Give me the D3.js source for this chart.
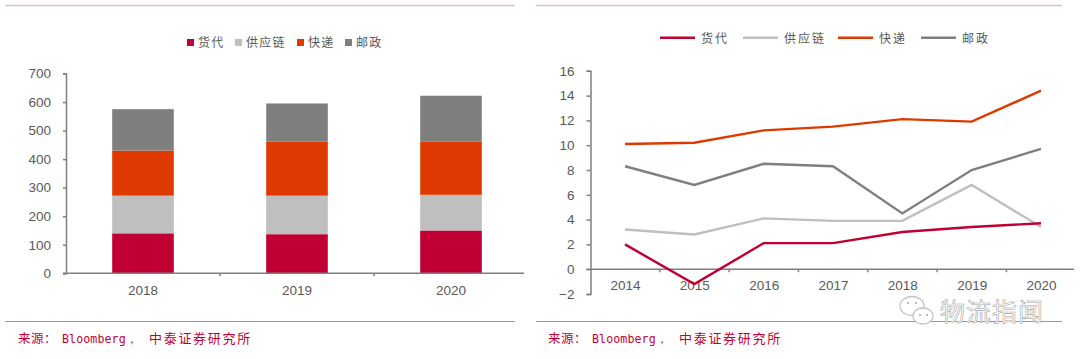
<!DOCTYPE html>
<html>
<head lang="en">
    <meta charset="UTF-8">
    <title></title>
    <script src="https://cdnjs.cloudflare.com/ajax/libs/d3/7.8.5/d3.min.js"></script>
    <style>
        html,body{margin:0;padding:0;background:#fff;}
        svg{display:block;}
    </style>
</head>
<body>
<div id="tu"></div>
<script>
    var seriesNames=['货代','供应链','快递','邮政'];
    var seriesColors=['#c00033','#bfbfbf','#de3a00','#7f7f7f'];
    var barYears=['2018','2019','2020'];
    var barHuodai=[140,137,150];
    var barGongying=[132,135,125];
    var barKuaidi=[158,190,187];
    var barYouzheng=[145,133,160];
    var barTicks=[0,100,200,300,400,500,600,700];
    var lineYears=['2014','2015','2016','2017','2018','2019','2020'];
    var lineHuodai=[2.0,-1.2,2.1,2.1,3.0,3.4,3.7];
    var lineGongying=[3.2,2.8,4.1,3.9,3.9,6.8,3.4];
    var lineKuaidi=[10.1,10.2,11.2,11.5,12.1,11.9,14.4];
    var lineYouzheng=[8.3,6.8,8.5,8.3,4.5,8.0,9.7];
    var lineTicks=[-2,0,2,4,6,8,10,12,14,16];
    var sourceHead='来源：';
    var sourceLatin='Bloomberg，';
    var sourceTail='中泰证券研究所';
    var watermark='物流指闻';
    var axisColor='#7f7f7f',textColor='#595959',cnFont='"Noto Sans CJK SC"',numFont='"Liberation Sans"';

    var svg=d3.select('#tu').append('svg').attr('width',1080).attr('height',359);

    //页面上下的分隔线和来源
    function drawFrame(x0,x1,srcx){
        svg.append('line').attr('x1',x0).attr('x2',x1).attr('y1',5.5).attr('y2',5.5)
            .attr('stroke','#dcbcc8').attr('stroke-width',1.5);
        svg.append('line').attr('x1',x0).attr('x2',x1).attr('y1',321.5).attr('y2',321.5)
            .attr('stroke','#e8708a').attr('stroke-width',1);
        var t=svg.append('text').attr('y',343).attr('fill','#c00033').attr('font-family',cnFont);
        t.append('tspan').attr('x',srcx).attr('font-size',12.5).attr('letter-spacing',0.5).text(sourceHead);
        t.append('tspan').attr('x',srcx+44).attr('font-family','"DejaVu Sans Mono"').attr('font-size',11.6).attr('letter-spacing',0.1).text(sourceLatin);
        t.append('tspan').attr('x',srcx+131).attr('font-size',13).attr('letter-spacing',1.7).text(sourceTail);
    }
    drawFrame(5,515,18);
    drawFrame(536,1062,548);

    function styleAxis(g){
        g.selectAll('path,line').attr('stroke',axisColor).attr('stroke-width',1.5);
        g.selectAll('text').attr('font-family',numFont).attr('font-size',13.5).attr('fill',textColor);
    }

    //左图：堆积柱
    function drawBars(){
        var x=d3.scaleBand().domain(barYears).range([66,528]).paddingInner(0.6).paddingOuter(0.3);
        var y=d3.scaleLinear().domain([0,700]).range([273.3,73.5]);
        var keys=['a','b','c','d'];
        var rows=barYears.map(function(d,i){
            return {year:d,a:barHuodai[i],b:barGongying[i],c:barKuaidi[i],d:barYouzheng[i]};
        });
        var stacked=d3.stack().keys(keys)(rows);
        svg.append('g').selectAll('g').data(stacked).enter().append('g')
            .attr('fill',function(d,i){return seriesColors[i]})
            .selectAll('rect').data(function(d){return d}).enter().append('rect')
            .attr('x',function(d){return x(d.data.year)})
            .attr('width',x.bandwidth())
            .attr('y',function(d){return y(d[1])})
            .attr('height',function(d){return y(d[0])-y(d[1])});
        var gy=svg.append('g').attr('transform','translate(66,0)')
            .call(d3.axisLeft(y).tickValues(barTicks).tickSizeInner(3).tickSizeOuter(3).tickPadding(12).tickFormat(d3.format('d')));
        styleAxis(gy);
        var step=x.step();
        var gx=svg.append('g').attr('transform','translate(0,273.3)')
            .call(d3.axisBottom(x).tickSize(0).tickPadding(12));
        styleAxis(gx);
        gx.select('.domain').attr('d','M63,0H524');
        gx.selectAll('.bound').data(d3.range(1,barYears.length)).enter().append('line')
            .attr('x1',function(d){return 66+d*step}).attr('x2',function(d){return 66+d*step})
            .attr('y1',0).attr('y2',3).attr('stroke',axisColor).attr('stroke-width',1.5);
    }
    drawBars();

    //右图：折线
    function drawLines(){
        var x=d3.scalePoint().domain(lineYears).range([625,1041]);
        var y=d3.scaleLinear().domain([-2,16]).range([294,70.8]);
        var lists=[lineHuodai,lineGongying,lineKuaidi,lineYouzheng];
        var line=d3.line()
            .x(function(d,i){return x(lineYears[i])})
            .y(function(d){return y(d)});
        var gy=svg.append('g').attr('transform','translate(590.5,0)')
            .call(d3.axisLeft(y).tickValues(lineTicks).tickSizeInner(4).tickSizeOuter(4).tickPadding(12));
        styleAxis(gy);
        var step=x.step();
        var gx=svg.append('g').attr('transform','translate(0,'+y(0)+')')
            .call(d3.axisBottom(x).tickSize(0).tickPadding(11));
        styleAxis(gx);
        gx.select('.domain').attr('d','M586.5,0H1074');
        gx.selectAll('.bound').data(d3.range(1,lineYears.length)).enter().append('line')
            .attr('x1',function(d){return 590.5+d*step}).attr('x2',function(d){return 590.5+d*step})
            .attr('y1',0).attr('y2',3).attr('stroke',axisColor).attr('stroke-width',1.5);
        //后画的系列在上面，货代最后
        [1,3,2,0].forEach(function(k){
            svg.append('path').attr('d',line(lists[k])).attr('fill','none')
                .attr('stroke',seriesColors[k]).attr('stroke-width',2.4);
        });
    }
    drawLines();

    //图例
    var barLegendX=[187,235,297,345];
    var lineLegendX=[660,743,838,921];
    var g1=svg.append('g');
    seriesNames.forEach(function(n,i){
        g1.append('rect').attr('x',barLegendX[i]).attr('y',39).attr('width',7).attr('height',7).attr('fill',seriesColors[i]);
        g1.append('text').attr('x',barLegendX[i]+11).attr('y',47).text(n)
            .attr('font-family',cnFont).attr('font-size',12).attr('letter-spacing',1.3).attr('fill',textColor);
    });
    var g2=svg.append('g');
    seriesNames.forEach(function(n,i){
        g2.append('line').attr('x1',lineLegendX[i]).attr('x2',lineLegendX[i]+35).attr('y1',37.7).attr('y2',37.7)
            .attr('stroke',seriesColors[i]).attr('stroke-width',2.4);
        g2.append('text').attr('x',lineLegendX[i]+41).attr('y',42.5).text(n)
            .attr('font-family',cnFont).attr('font-size',12).attr('letter-spacing',2).attr('fill',textColor);
    });

    //水印
    var wm=svg.append('g');
    [[912,306,12,9.5],[923,316,10,8]].forEach(function(b){
        wm.append('ellipse').attr('cx',b[0]).attr('cy',b[1]).attr('rx',b[2]).attr('ry',b[3])
            .attr('fill','#fff').attr('stroke','#c4c4c4').attr('stroke-width',1.3);
    });
    [[908,303],[916,303],[920,315],[927,315]].forEach(function(p){
        wm.append('circle').attr('cx',p[0]).attr('cy',p[1]).attr('r',1).attr('fill','#a6a6a6');
    });
    wm.append('text').attr('x',940).attr('y',321).text(watermark)
        .attr('font-family',cnFont).attr('font-size',25).attr('letter-spacing',1).attr('fill','#fff')
        .attr('stroke','#a6a6a6').attr('stroke-width',0.6);
</script>
</body>
</html>
